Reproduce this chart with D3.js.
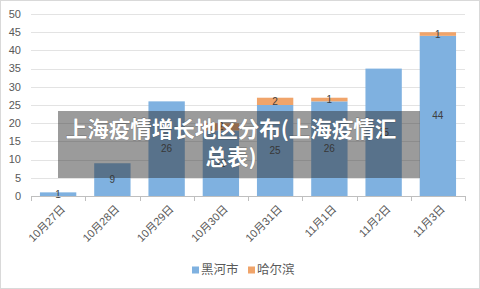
<!DOCTYPE html>
<html>
<head>
<meta charset="utf-8">
<script src="https://cdn.jsdelivr.net/npm/d3@7"></script>
<style>
  html, body { margin: 0; padding: 0; background: #fff; }
  svg { display: block; font-family: "Liberation Sans", "Noto Sans CJK SC", sans-serif; }
</style>
</head>
<body>
<div id="wrapper"></div>
<script>
const categories = ["10月27日", "10月28日", "10月29日", "10月30日", "10月31日", "11月1日", "11月2日", "11月3日"];
const seriesNames = ["黑河市", "哈尔滨"];
const heiheValues = [1, 9, 26, 18, 25, 26, 35, 44];
const harbinValues = [0, 0, 0, 2, 2, 1, 0, 1];
const yTicks = [0, 5, 10, 15, 20, 25, 30, 35, 40, 45, 50];
const titleLines = ["上海疫情增长地区分布(上海疫情汇", "总表)"];

const colors = ["#7fb1e0", "#f0a46a"];

function drawChart() {
    const width = 480;
    const height = 289;
    const dms = {
        width,
        height,
        margins: { top: 14, right: 15, left: 31, bottom: 93 }
    };
    dms.innerWidth = dms.width - dms.margins.left - dms.margins.right;
    dms.innerHeight = dms.height - dms.margins.top - dms.margins.bottom;

    const svg = d3.select("#wrapper")
        .append("svg")
            .attr("width", dms.width)
            .attr("height", dms.height);

    // outer border
    svg.append("rect")
        .attr("x", 0.5).attr("y", 0.5)
        .attr("width", width - 1).attr("height", height - 1)
        .attr("fill", "#fff")
        .attr("stroke", "#d9d9d9");

    const inner = svg.append("g")
        .attr("transform", `translate(${dms.margins.left},${dms.margins.top})`);

    const xScale = d3.scaleBand()
        .domain(categories)
        .range([0, dms.innerWidth])
        .paddingInner(0.33)
        .paddingOuter(0.165);

    const yScale = d3.scaleLinear()
        .domain([0, 50])
        .range([dms.innerHeight, 0]);

    // gridlines
    inner.append("g")
        .selectAll("line")
        .data(yTicks.filter(d => d > 0))
        .join("line")
            .attr("x1", 0)
            .attr("x2", dms.innerWidth)
            .attr("y1", d => Math.round(yScale(d)) + 0.5)
            .attr("y2", d => Math.round(yScale(d)) + 0.5)
            .attr("stroke", "#e3e3e3");

    // y labels
    inner.append("g")
        .selectAll("text")
        .data(yTicks)
        .join("text")
            .attr("x", -10)
            .attr("y", d => yScale(d))
            .attr("dy", "0.35em")
            .attr("text-anchor", "end")
            .attr("fill", "#595959")
            .style("font-size", "11px")
            .text(d => d);

    // stacked data
    const table = categories.map((c, i) => ({ cat: c, heihe: heiheValues[i], harbin: harbinValues[i] }));
    const stack = d3.stack().keys(["heihe", "harbin"]);
    const layers = stack(table);

    const layerGroups = inner.append("g")
        .selectAll("g")
        .data(layers)
        .join("g")
            .attr("fill", (d, i) => colors[i]);

    layerGroups.selectAll("rect")
        .data(d => d)
        .join("rect")
            .attr("x", d => xScale(d.data.cat))
            .attr("y", d => yScale(d[1]))
            .attr("width", xScale.bandwidth())
            .attr("height", d => yScale(d[0]) - yScale(d[1]));

    // data labels
    layers.forEach(layer => {
        inner.append("g")
            .selectAll("text")
            .data(layer.filter(d => d[1] - d[0] > 0))
            .join("text")
                .attr("x", d => xScale(d.data.cat) + xScale.bandwidth() / 2)
                .attr("y", d => (yScale(d[0]) + yScale(d[1])) / 2)
                .attr("dy", "0.35em")
                .attr("text-anchor", "middle")
                .attr("fill", "#404040")
                .style("font-size", "10px")
                .text(d => d[1] - d[0]);
    });

    // x axis
    const xAxis = inner.append("g")
        .attr("transform", `translate(0,${dms.innerHeight})`);

    xAxis.append("line")
        .attr("x1", 0).attr("x2", dms.innerWidth)
        .attr("y1", 0.5).attr("y2", 0.5)
        .attr("stroke", "#bfbfbf");

    const tickPos = d3.range(categories.length + 1).map(i => i * dms.innerWidth / categories.length);
    xAxis.selectAll(".tick")
        .data(tickPos)
        .join("line")
            .attr("x1", d => Math.round(d) + 0.5)
            .attr("x2", d => Math.round(d) + 0.5)
            .attr("y1", 0)
            .attr("y2", 5)
            .attr("stroke", "#bfbfbf");

    xAxis.selectAll(".xlabel")
        .data(categories)
        .join("text")
            .attr("transform", d => `translate(${xScale(d) + xScale.bandwidth() / 2 + 5},${11}) rotate(-45)`)
            .attr("text-anchor", "end")
            .attr("dy", "0.35em")
            .attr("fill", "#595959")
            .style("font-size", "11px")
            .text(d => d);

    // legend
    const legend = svg.append("g")
        .attr("transform", "translate(192,270)");
    const legendItems = legend.selectAll("g")
        .data(seriesNames)
        .join("g")
            .attr("transform", (d, i) => `translate(${i * 56},0)`);
    legendItems.append("rect")
        .attr("x", 0).attr("y", -3.5)
        .attr("width", 7).attr("height", 7)
        .attr("fill", (d, i) => colors[i]);
    legendItems.append("text")
        .attr("x", 9)
        .attr("dy", "0.35em")
        .attr("fill", "#595959")
        .style("font-size", "12.5px")
        .text(d => d);

    // title overlay banner
    svg.append("rect")
        .attr("x", 58).attr("y", 111)
        .attr("width", 362).attr("height", 67)
        .attr("fill", "rgba(45,45,45,0.48)");

    svg.append("g")
        .selectAll("text")
        .data(titleLines)
        .join("text")
            .attr("x", 231)
            .attr("y", (d, i) => 129 + i * 28)
            .attr("dy", "0.35em")
            .attr("text-anchor", "middle")
            .attr("fill", "#ffffff")
            .attr("stroke", "rgba(40,40,40,0.35)")
            .attr("stroke-width", 0.8)
            .style("paint-order", "stroke")
            .style("font-family", "'Noto Sans CJK SC', sans-serif")
            .style("font-weight", "bold")
            .style("font-size", "21.5px")
            .text(d => d);
}

drawChart();
</script>
</body>
</html>
